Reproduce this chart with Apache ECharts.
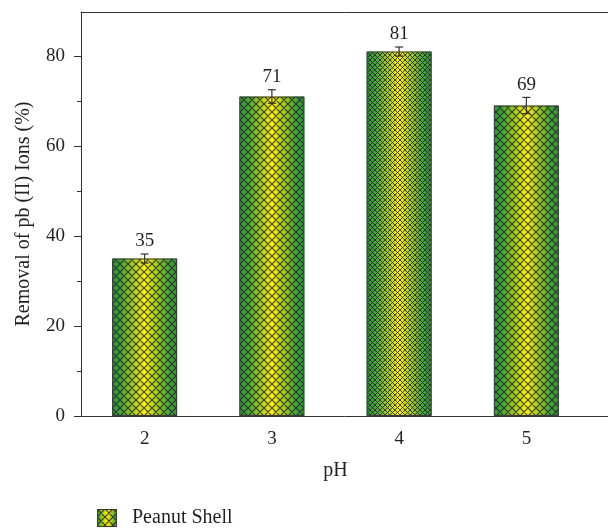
<!DOCTYPE html>
<html>
<head>
<meta charset="utf-8">
<script src="https://cdn.jsdelivr.net/npm/echarts@6/dist/echarts.min.js"></script>
<style>
  html, body { margin: 0; padding: 0; background: #ffffff; }
  #chart { width: 608px; height: 528px; }
</style>
</head>
<body>
<div id="chart"></div>
<script>
// pH levels and Pb(II) removal (%) with error-bar half widths
const phLevels = ['2', '3', '4', '5'];
const removal = [35, 71, 81, 69];
const removalErr = [1.0, 1.5, 1.0, 1.8];
const seriesName = 'Peanut Shell';

const FONT = '"Liberation Serif", "DejaVu Serif", serif';
const INK = '#231f20';
const AXIS = '#333333';
const GREEN = '#2f9638';
const YELLOW = '#fff200';

// cross-hatch tile drawn on a small canvas, used as a repeating pattern
function hatchCanvas(size, lw) {
  const c = document.createElement('canvas');
  c.width = size; c.height = size;
  const g = c.getContext('2d');
  g.strokeStyle = 'rgba(35,35,35,0.85)';
  g.lineWidth = lw;
  g.beginPath();
  for (const d of [-size, 0, size]) {
    g.moveTo(d, 0); g.lineTo(d + size, size);
    g.moveTo(d, size); g.lineTo(d + size, 0);
  }
  g.stroke();
  return c;
}
const hatchCoarse = hatchCanvas(8, 1.2);
const hatchFine = hatchCanvas(5, 1.0);

const barGradient = new echarts.graphic.LinearGradient(0, 0, 1, 0, [
  { offset: 0, color: GREEN },
  { offset: 0.12, color: '#3fa23a' },
  { offset: 0.5, color: YELLOW },
  { offset: 0.88, color: '#3fa23a' },
  { offset: 1, color: GREEN }
]);

// legend swatch: gradient + hatch + border
function legendIcon() {
  const w = 20, h = 18;
  const c = document.createElement('canvas');
  c.width = w; c.height = h;
  const g = c.getContext('2d');
  const lg = g.createLinearGradient(0, 0, w, 0);
  lg.addColorStop(0, GREEN); lg.addColorStop(0.5, YELLOW); lg.addColorStop(1, GREEN);
  g.fillStyle = lg; g.fillRect(0, 0, w, h);
  g.fillStyle = g.createPattern(hatchCoarse, 'repeat'); g.fillRect(0, 0, w, h);
  g.strokeStyle = '#3a3a3a'; g.lineWidth = 1; g.strokeRect(0.5, 0.5, w - 1, h - 1);
  return c.toDataURL();
}

const hatchData = removal.map((v, i) => ({
  value: v,
  itemStyle: { color: { image: phLevels[i] === '4' ? hatchFine : hatchCoarse, repeat: 'repeat' } }
}));

const errData = removal.map((v, i) => [i, v, removalErr[i]]);

const chart = echarts.init(document.getElementById('chart'), null, { renderer: 'canvas' });

chart.setOption({
  animation: false,
  backgroundColor: '#ffffff',
  grid: [
    // data grid (bars, ticks, labels)
    { left: 81, right: 18, top: 56, bottom: 112 },
    // frame grid (axis lines, y title)
    { left: 81, right: 0, top: 12, bottom: 112 }
  ],
  legend: {
    left: 97, top: 508, padding: 0,
    itemWidth: 20, itemHeight: 18,
    data: [{ name: seriesName, icon: 'image://' + legendIcon() }],
    textStyle: { fontFamily: FONT, fontSize: 20, color: INK, padding: [0, 0, 0, 10] }
  },
  xAxis: [
    {
      type: 'category', gridIndex: 0, data: phLevels,
      axisLine: { show: false },
      axisTick: { alignWithLabel: true, length: 7, lineStyle: { color: AXIS } },
      axisLabel: { margin: 14, fontFamily: FONT, fontSize: 19, color: INK },
      name: 'pH', nameLocation: 'middle', nameGap: 45,
      nameTextStyle: { fontFamily: FONT, fontSize: 20, color: INK }
    },
    {
      type: 'category', gridIndex: 0, data: phLevels, position: 'bottom',
      axisLine: { show: false },
      axisTick: { alignWithLabel: false, length: 4, lineStyle: { color: AXIS } },
      axisLabel: { show: false }
    },
    {
      type: 'value', gridIndex: 1, min: 0, max: 1, position: 'bottom',
      axisLine: { show: true, lineStyle: { color: AXIS, width: 1 } },
      axisTick: { show: false }, axisLabel: { show: false }, splitLine: { show: false }
    },
    {
      type: 'value', gridIndex: 1, min: 0, max: 1, position: 'top',
      axisLine: { show: true, lineStyle: { color: AXIS, width: 1 } },
      axisTick: { show: false }, axisLabel: { show: false }, splitLine: { show: false }
    }
  ],
  yAxis: [
    {
      type: 'value', gridIndex: 0, min: 0, max: 80, interval: 20,
      axisLine: { show: false },
      axisTick: { show: true, length: 7, lineStyle: { color: AXIS } },
      minorTick: { show: true, splitNumber: 2, length: 4, lineStyle: { color: AXIS } },
      splitLine: { show: false },
      axisLabel: { margin: 16, fontFamily: FONT, fontSize: 19, color: INK }
    },
    {
      type: 'value', gridIndex: 1, min: 0, max: 1,
      axisLine: { show: true, lineStyle: { color: AXIS, width: 1 } },
      axisTick: { show: false }, axisLabel: { show: false }, splitLine: { show: false },
      name: 'Removal of pb (II) Ions (%)', nameLocation: 'middle', nameGap: 47,
      nameTextStyle: { fontFamily: FONT, fontSize: 20, color: INK }
    }
  ],
  series: [
    {
      name: seriesName + ' fill', type: 'bar', xAxisIndex: 0, yAxisIndex: 0,
      data: removal, barWidth: 65, clip: false, silent: true, z: 2,
      itemStyle: { color: barGradient }
    },
    {
      name: seriesName, type: 'bar', xAxisIndex: 0, yAxisIndex: 0,
      data: hatchData, barWidth: 65, barGap: '-100%', clip: false, silent: true, z: 3,
      itemStyle: { borderColor: '#3a3a3a', borderWidth: 1 }
    },
    {
      name: 'error', type: 'custom', xAxisIndex: 0, yAxisIndex: 0,
      data: errData, clip: false, silent: true, z: 4,
      encode: { x: 0, y: 1 },
      renderItem: function (params, api) {
        const i = api.value(0), v = api.value(1), e = api.value(2);
        const hi = api.coord([i, v + e]);
        const lo = api.coord([i, v - e]);
        const cap = 4;
        const ls = { stroke: AXIS, lineWidth: 1.2 };
        return {
          type: 'group',
          children: [
            { type: 'line', shape: { x1: hi[0], y1: hi[1], x2: lo[0], y2: lo[1] }, style: ls },
            { type: 'line', shape: { x1: hi[0] - cap, y1: hi[1], x2: hi[0] + cap, y2: hi[1] }, style: ls },
            { type: 'line', shape: { x1: lo[0] - cap, y1: lo[1], x2: lo[0] + cap, y2: lo[1] }, style: ls },
            {
              type: 'text',
              style: {
                text: String(v), x: hi[0], y: hi[1] - 3,
                align: 'center', verticalAlign: 'bottom',
                font: '19px ' + FONT, fill: INK
              }
            }
          ]
        };
      }
    }
  ]
});
</script>
</body>
</html>
